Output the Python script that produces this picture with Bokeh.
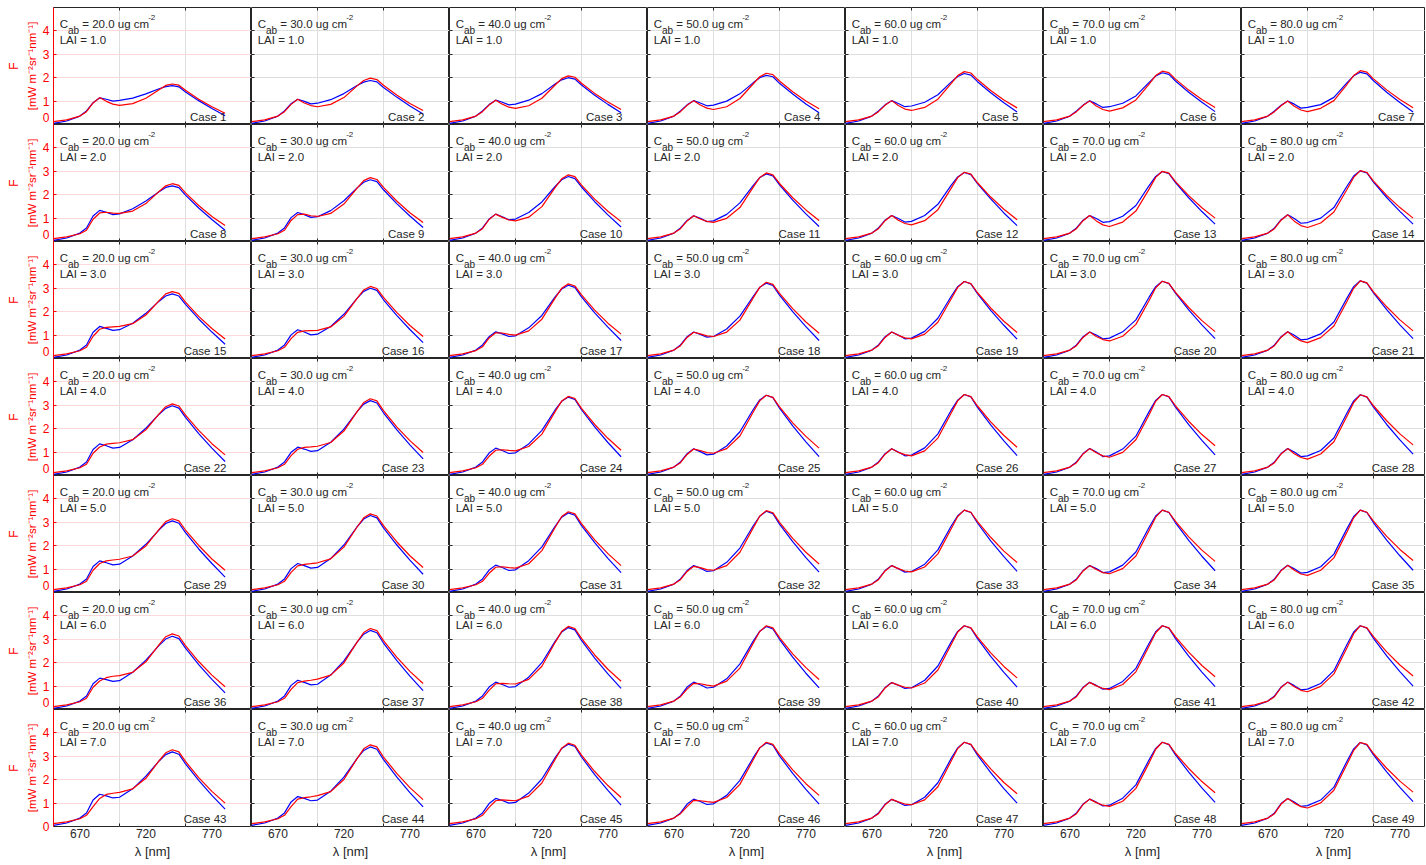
from bokeh.plotting import figure
from bokeh.layouts import gridplot
from bokeh.models import Range1d, FixedTicker, Label, Title, LinearAxis
from bokeh.embed import file_html
from bokeh.resources import INLINE

# ---------------- data ----------------
WL = [650, 660, 670, 675, 680, 685, 690, 695, 700, 710, 720, 730, 735, 740, 745, 750, 760, 770, 780]
CAB = [20.0, 30.0, 40.0, 50.0, 60.0, 70.0, 80.0]
LAI = [1.0, 2.0, 3.0, 4.0, 5.0, 6.0, 7.0]
X_TICK_LABELS = [670, 720, 770]
X_GRID = [700, 750]
Y_TICKS = [0, 1, 2, 3, 4]

BLUE_LAI1 = [
    [.05, .15, .36, .58, .93, 1.14, 1.08, 1.0, 1.03, 1.13, 1.31, 1.53, 1.62, 1.66, 1.61, 1.39, 1.02, .68, .37],
    [.05, .15, .36, .58, .89, 1.08, .99, .88, .91, 1.06, 1.32, 1.67, 1.81, 1.88, 1.82, 1.58, 1.17, .79, .45],
    [.05, .15, .36, .58, .85, 1.04, .95, .84, .87, 1.04, 1.32, 1.73, 1.91, 2.0, 1.94, 1.69, 1.25, .86, .5],
    [.05, .15, .36, .58, .84, 1.02, .92, .8, .83, 1.0, 1.31, 1.78, 2.0, 2.1, 2.04, 1.76, 1.3, .88, .5],
    [.05, .15, .36, .58, .84, 1.02, .9, .76, .79, .95, 1.27, 1.81, 2.05, 2.18, 2.11, 1.83, 1.36, .93, .53],
    [.05, .15, .36, .58, .83, 1.01, .88, .73, .76, .91, 1.22, 1.8, 2.07, 2.21, 2.14, 1.86, 1.38, .95, .55],
    [.05, .15, .36, .58, .82, 1.0, .87, .7, .73, .85, 1.16, 1.79, 2.08, 2.23, 2.16, 1.87, 1.38, .94, .53],
]
RED_LAI1 = [
    [.12, .2, .36, .55, .92, 1.15, .99, .87, .82, .89, 1.12, 1.49, 1.67, 1.73, 1.68, 1.46, 1.08, .76, .48],
    [.12, .2, .36, .55, .86, 1.08, .92, .81, .76, .86, 1.15, 1.65, 1.88, 1.98, 1.92, 1.68, 1.26, .9, .6],
    [.12, .2, .36, .55, .83, 1.04, .87, .74, .69, .8, 1.12, 1.69, 1.96, 2.08, 2.02, 1.76, 1.33, .96, .64],
    [.12, .2, .36, .55, .82, 1.02, .83, .7, .64, .76, 1.11, 1.73, 2.04, 2.19, 2.13, 1.86, 1.4, 1.0, .67],
    [.12, .2, .36, .55, .82, 1.02, .81, .66, .6, .73, 1.08, 1.75, 2.09, 2.26, 2.2, 1.92, 1.45, 1.05, .71],
    [.12, .2, .36, .55, .81, 1.01, .79, .64, .57, .71, 1.05, 1.73, 2.09, 2.28, 2.22, 1.94, 1.47, 1.07, .73],
    [.12, .2, .36, .55, .8, 1.0, .78, .62, .55, .69, 1.02, 1.72, 2.09, 2.3, 2.24, 1.95, 1.48, 1.07, .72],
]
BLUE_LAI2 = [
    [.05, .15, .36, .58, 1.09, 1.33, 1.25, 1.15, 1.18, 1.4, 1.73, 2.13, 2.31, 2.38, 2.3, 1.98, 1.43, .94, .48],
    [.05, .15, .36, .58, 1.02, 1.24, 1.15, 1.03, 1.06, 1.32, 1.74, 2.29, 2.53, 2.64, 2.56, 2.21, 1.62, 1.09, .6],
    [.05, .15, .36, .58, .96, 1.17, 1.06, .93, .96, 1.24, 1.69, 2.35, 2.64, 2.78, 2.69, 2.33, 1.7, 1.14, .62],
    [.05, .15, .36, .58, .9, 1.1, .99, .85, .88, 1.16, 1.65, 2.39, 2.73, 2.89, 2.8, 2.42, 1.77, 1.18, .64],
    [.05, .15, .36, .58, .91, 1.11, .98, .83, .86, 1.11, 1.59, 2.4, 2.76, 2.95, 2.86, 2.47, 1.82, 1.22, .68],
    [.05, .15, .36, .58, .91, 1.11, .98, .82, .85, 1.08, 1.54, 2.39, 2.78, 2.99, 2.9, 2.52, 1.87, 1.28, .74],
    [.05, .15, .36, .58, .93, 1.14, .98, .78, .81, 1.0, 1.45, 2.37, 2.8, 3.02, 2.93, 2.54, 1.88, 1.29, .74],
]
RED_LAI2 = [
    [.12, .2, .33, .48, .95, 1.22, 1.25, 1.21, 1.2, 1.3, 1.62, 2.14, 2.38, 2.47, 2.4, 2.08, 1.54, 1.07, .68],
    [.12, .2, .33, .48, .9, 1.15, 1.17, 1.1, 1.07, 1.2, 1.6, 2.28, 2.6, 2.73, 2.65, 2.31, 1.73, 1.23, .81],
    [.12, .2, .36, .55, .94, 1.17, 1.03, .92, .88, 1.04, 1.49, 2.3, 2.68, 2.85, 2.77, 2.41, 1.81, 1.29, .85],
    [.12, .2, .36, .55, .88, 1.1, .96, .86, .82, .99, 1.45, 2.31, 2.73, 2.93, 2.85, 2.48, 1.87, 1.35, .9],
    [.12, .2, .36, .55, .89, 1.11, .91, .77, .71, .89, 1.36, 2.27, 2.73, 2.96, 2.88, 2.51, 1.9, 1.38, .93],
    [.12, .2, .36, .55, .89, 1.11, .88, .71, .64, .83, 1.3, 2.24, 2.74, 3.0, 2.92, 2.56, 1.96, 1.44, 1.0],
    [.12, .2, .36, .55, .91, 1.14, .87, .68, .6, .79, 1.26, 2.23, 2.74, 3.03, 2.95, 2.58, 1.97, 1.45, 1.0],
]
BLUE_LAI3 = [
    [.05, .15, .36, .58, 1.12, 1.37, 1.29, 1.2, 1.23, 1.51, 1.93, 2.45, 2.67, 2.76, 2.67, 2.31, 1.69, 1.13, .61],
    [.05, .15, .36, .58, 1.01, 1.23, 1.13, 1.01, 1.04, 1.37, 1.89, 2.57, 2.87, 3.0, 2.91, 2.51, 1.84, 1.24, .68],
    [.05, .15, .36, .58, .93, 1.14, 1.05, .94, .97, 1.31, 1.84, 2.63, 2.97, 3.13, 3.04, 2.63, 1.95, 1.34, .77],
    [.05, .15, .36, .58, .93, 1.13, 1.03, .91, .94, 1.26, 1.81, 2.65, 3.04, 3.22, 3.12, 2.71, 2.0, 1.36, .77],
    [.05, .15, .36, .58, .93, 1.13, 1.0, .84, .87, 1.16, 1.72, 2.65, 3.07, 3.29, 3.19, 2.77, 2.06, 1.42, .83],
    [.05, .15, .36, .58, .93, 1.13, 1.0, .84, .87, 1.14, 1.65, 2.62, 3.07, 3.3, 3.2, 2.79, 2.08, 1.44, .85],
    [.05, .15, .36, .58, .93, 1.14, .99, .8, .83, 1.05, 1.56, 2.59, 3.07, 3.32, 3.22, 2.8, 2.09, 1.44, .85],
]
RED_LAI3 = [
    [.12, .2, .33, .48, .95, 1.25, 1.33, 1.35, 1.37, 1.49, 1.86, 2.47, 2.76, 2.86, 2.78, 2.41, 1.8, 1.28, .83],
    [.12, .2, .33, .48, .85, 1.12, 1.18, 1.19, 1.2, 1.35, 1.8, 2.57, 2.93, 3.08, 2.99, 2.61, 1.97, 1.41, .94],
    [.12, .2, .34, .5, .88, 1.1, 1.09, 1.03, 1.0, 1.18, 1.68, 2.58, 3.0, 3.19, 3.1, 2.72, 2.07, 1.51, 1.04],
    [.12, .2, .36, .55, .9, 1.12, 1.05, .97, .94, 1.13, 1.64, 2.58, 3.04, 3.26, 3.17, 2.78, 2.13, 1.56, 1.08],
    [.12, .2, .36, .55, .9, 1.13, .99, .88, .84, 1.04, 1.55, 2.54, 3.04, 3.29, 3.2, 2.81, 2.16, 1.59, 1.11],
    [.12, .2, .36, .55, .9, 1.13, .94, .81, .75, .95, 1.46, 2.48, 3.02, 3.3, 3.21, 2.83, 2.18, 1.62, 1.15],
    [.12, .2, .36, .55, .91, 1.14, .91, .75, .68, .89, 1.39, 2.45, 3.0, 3.32, 3.23, 2.85, 2.21, 1.65, 1.18],
]
BLUE_LAI4 = [
    [.05, .15, .36, .58, 1.11, 1.35, 1.27, 1.17, 1.2, 1.53, 2.02, 2.62, 2.87, 2.98, 2.88, 2.48, 1.79, 1.17, .6],
    [.05, .15, .36, .58, .99, 1.21, 1.13, 1.03, 1.06, 1.42, 1.98, 2.73, 3.05, 3.2, 3.1, 2.68, 1.96, 1.31, .71],
    [.05, .15, .36, .58, .96, 1.17, 1.07, .94, .97, 1.35, 1.93, 2.8, 3.17, 3.35, 3.25, 2.81, 2.08, 1.41, .8],
    [.05, .15, .36, .58, .93, 1.14, 1.02, .88, .91, 1.26, 1.87, 2.81, 3.23, 3.43, 3.33, 2.88, 2.12, 1.44, .81],
    [.05, .15, .36, .58, .93, 1.14, 1.0, .84, .87, 1.18, 1.78, 2.78, 3.22, 3.46, 3.36, 2.91, 2.16, 1.48, .85],
    [.05, .15, .36, .58, .94, 1.15, 1.0, .81, .84, 1.13, 1.68, 2.73, 3.21, 3.46, 3.36, 2.92, 2.17, 1.5, .88],
    [.05, .15, .36, .58, .94, 1.15, 1.0, .81, .84, 1.07, 1.6, 2.68, 3.19, 3.45, 3.35, 2.92, 2.18, 1.52, .91],
]
RED_LAI4 = [
    [.12, .2, .33, .48, .95, 1.22, 1.34, 1.37, 1.4, 1.53, 1.95, 2.63, 2.94, 3.06, 2.97, 2.58, 1.93, 1.36, .88],
    [.12, .2, .33, .48, .85, 1.12, 1.2, 1.22, 1.25, 1.41, 1.9, 2.73, 3.12, 3.28, 3.19, 2.77, 2.08, 1.49, .98],
    [.12, .2, .33, .48, .82, 1.08, 1.1, 1.07, 1.05, 1.24, 1.77, 2.73, 3.18, 3.38, 3.29, 2.87, 2.18, 1.59, 1.08],
    [.12, .2, .36, .55, .9, 1.13, 1.07, .98, .95, 1.15, 1.69, 2.7, 3.19, 3.43, 3.34, 2.93, 2.25, 1.67, 1.17],
    [.12, .2, .36, .55, .91, 1.14, .99, .89, .84, 1.05, 1.6, 2.66, 3.19, 3.46, 3.37, 2.97, 2.29, 1.71, 1.21],
    [.12, .2, .36, .55, .92, 1.15, .97, .84, .78, .99, 1.53, 2.6, 3.17, 3.46, 3.37, 2.98, 2.32, 1.75, 1.27],
    [.12, .2, .36, .55, .92, 1.15, .93, .77, .7, .92, 1.44, 2.54, 3.12, 3.45, 3.36, 2.98, 2.34, 1.78, 1.31],
]
BLUE_LAI5 = [
    [.05, .15, .36, .58, 1.11, 1.35, 1.27, 1.18, 1.21, 1.56, 2.06, 2.68, 2.95, 3.06, 2.96, 2.56, 1.86, 1.24, .66],
    [.05, .15, .36, .58, 1.02, 1.24, 1.15, 1.04, 1.07, 1.45, 2.03, 2.81, 3.14, 3.29, 3.19, 2.76, 2.04, 1.38, .78],
    [.05, .15, .36, .58, .96, 1.17, 1.07, .94, .97, 1.36, 1.95, 2.83, 3.22, 3.4, 3.3, 2.86, 2.13, 1.46, .85],
    [.05, .15, .36, .58, .94, 1.15, 1.04, .9, .93, 1.29, 1.9, 2.84, 3.26, 3.47, 3.37, 2.92, 2.17, 1.49, .87],
    [.05, .15, .36, .58, .94, 1.15, 1.02, .87, .9, 1.21, 1.82, 2.83, 3.28, 3.52, 3.42, 2.97, 2.21, 1.53, .9],
    [.05, .15, .36, .58, .94, 1.15, 1.02, .85, .88, 1.17, 1.73, 2.79, 3.27, 3.52, 3.42, 2.98, 2.23, 1.55, .93],
    [.05, .15, .36, .58, .95, 1.16, 1.01, .83, .86, 1.1, 1.64, 2.74, 3.25, 3.52, 3.42, 2.98, 2.24, 1.57, .95],
]
RED_LAI5 = [
    [.12, .2, .33, .48, .95, 1.24, 1.35, 1.39, 1.42, 1.56, 1.99, 2.7, 3.03, 3.15, 3.06, 2.67, 2.01, 1.43, .95],
    [.12, .2, .33, .48, .86, 1.14, 1.2, 1.23, 1.27, 1.44, 1.94, 2.8, 3.19, 3.36, 3.27, 2.86, 2.17, 1.57, 1.07],
    [.12, .2, .33, .48, .82, 1.08, 1.1, 1.06, 1.04, 1.23, 1.79, 2.78, 3.25, 3.45, 3.36, 2.94, 2.25, 1.66, 1.15],
    [.12, .2, .36, .55, .9, 1.12, 1.06, .98, .95, 1.15, 1.72, 2.75, 3.26, 3.5, 3.41, 3.0, 2.31, 1.72, 1.22],
    [.12, .2, .36, .55, .92, 1.15, 1.02, .92, .88, 1.09, 1.65, 2.71, 3.25, 3.52, 3.43, 3.03, 2.36, 1.77, 1.28],
    [.12, .2, .36, .55, .92, 1.15, .98, .85, .8, 1.02, 1.56, 2.65, 3.22, 3.52, 3.43, 3.04, 2.38, 1.81, 1.33],
    [.12, .2, .36, .55, .93, 1.16, .95, .79, .73, .95, 1.48, 2.6, 3.19, 3.52, 3.43, 3.05, 2.4, 1.84, 1.37],
]
BLUE_LAI6 = [
    [.05, .15, .36, .58, 1.1, 1.34, 1.28, 1.2, 1.23, 1.59, 2.11, 2.74, 3.01, 3.13, 3.03, 2.62, 1.92, 1.29, .71],
    [.05, .15, .36, .58, 1.03, 1.25, 1.16, 1.05, 1.08, 1.47, 2.08, 2.88, 3.22, 3.38, 3.28, 2.84, 2.1, 1.43, .81],
    [.05, .15, .36, .58, .96, 1.17, 1.07, .95, .98, 1.38, 2.0, 2.91, 3.31, 3.5, 3.4, 2.95, 2.2, 1.52, .9],
    [.05, .15, .36, .58, .96, 1.17, 1.06, .92, .95, 1.31, 1.95, 2.91, 3.34, 3.55, 3.44, 3.0, 2.24, 1.55, .92],
    [.05, .15, .36, .58, .94, 1.15, 1.04, .9, .93, 1.25, 1.86, 2.88, 3.34, 3.58, 3.48, 3.03, 2.27, 1.59, .96],
    [.05, .15, .36, .58, .95, 1.16, 1.03, .87, .9, 1.2, 1.76, 2.83, 3.32, 3.58, 3.48, 3.03, 2.28, 1.6, .98],
    [.05, .15, .36, .58, .96, 1.17, 1.02, .84, .87, 1.11, 1.66, 2.79, 3.31, 3.58, 3.48, 3.04, 2.29, 1.62, 1.0],
]
RED_LAI6 = [
    [.12, .2, .33, .48, .95, 1.22, 1.36, 1.42, 1.45, 1.59, 2.04, 2.77, 3.11, 3.23, 3.14, 2.73, 2.05, 1.47, .97],
    [.12, .2, .33, .48, .86, 1.15, 1.21, 1.25, 1.3, 1.47, 1.99, 2.88, 3.29, 3.46, 3.37, 2.94, 2.24, 1.63, 1.11],
    [.12, .2, .33, .48, .82, 1.1, 1.12, 1.1, 1.09, 1.29, 1.85, 2.86, 3.34, 3.55, 3.46, 3.04, 2.33, 1.72, 1.21],
    [.12, .2, .36, .55, .87, 1.12, 1.1, 1.04, 1.0, 1.21, 1.77, 2.82, 3.33, 3.58, 3.49, 3.07, 2.38, 1.79, 1.28],
    [.12, .2, .36, .55, .92, 1.15, 1.04, .95, .92, 1.13, 1.69, 2.77, 3.31, 3.58, 3.49, 3.09, 2.42, 1.84, 1.35],
    [.12, .2, .36, .55, .93, 1.16, 1.01, .9, .85, 1.07, 1.61, 2.71, 3.28, 3.58, 3.49, 3.1, 2.45, 1.88, 1.4],
    [.12, .2, .36, .55, .94, 1.17, .97, .82, .76, .99, 1.52, 2.65, 3.24, 3.58, 3.49, 3.11, 2.46, 1.9, 1.43],
]
BLUE_LAI7 = [
    [.05, .15, .36, .58, 1.13, 1.38, 1.31, 1.22, 1.25, 1.61, 2.15, 2.8, 3.07, 3.19, 3.09, 2.68, 1.97, 1.33, .74],
    [.05, .15, .36, .58, 1.05, 1.28, 1.2, 1.1, 1.13, 1.51, 2.11, 2.91, 3.25, 3.4, 3.3, 2.86, 2.12, 1.45, .84],
    [.05, .15, .36, .58, .98, 1.2, 1.11, 1.0, 1.03, 1.43, 2.03, 2.94, 3.33, 3.52, 3.42, 2.97, 2.22, 1.54, .91],
    [.05, .15, .36, .58, .96, 1.17, 1.07, .94, .97, 1.33, 1.97, 2.93, 3.36, 3.57, 3.47, 3.02, 2.27, 1.59, .96],
    [.05, .15, .36, .58, .95, 1.16, 1.04, .9, .93, 1.25, 1.87, 2.9, 3.36, 3.6, 3.5, 3.05, 2.3, 1.62, 1.0],
    [.05, .15, .36, .58, .96, 1.17, 1.04, .88, .91, 1.21, 1.78, 2.85, 3.34, 3.6, 3.5, 3.06, 2.32, 1.65, 1.03],
    [.05, .15, .36, .58, .98, 1.2, 1.05, .86, .89, 1.13, 1.68, 2.8, 3.32, 3.59, 3.49, 3.06, 2.33, 1.67, 1.06],
]
RED_LAI7 = [
    [.12, .2, .33, .48, .85, 1.2, 1.37, 1.42, 1.46, 1.61, 2.06, 2.81, 3.15, 3.28, 3.19, 2.78, 2.09, 1.5, 1.0],
    [.12, .2, .33, .48, .85, 1.17, 1.23, 1.27, 1.32, 1.49, 2.01, 2.9, 3.32, 3.49, 3.4, 2.97, 2.27, 1.66, 1.15],
    [.12, .2, .33, .48, .82, 1.1, 1.14, 1.12, 1.1, 1.3, 1.86, 2.87, 3.35, 3.56, 3.47, 3.05, 2.35, 1.75, 1.24],
    [.12, .2, .36, .55, .85, 1.12, 1.1, 1.06, 1.03, 1.24, 1.8, 2.84, 3.36, 3.6, 3.51, 3.1, 2.42, 1.83, 1.33],
    [.12, .2, .36, .55, .93, 1.16, 1.05, .96, .93, 1.14, 1.7, 2.79, 3.33, 3.6, 3.51, 3.12, 2.46, 1.88, 1.4],
    [.12, .2, .36, .55, .94, 1.17, 1.02, .91, .86, 1.08, 1.63, 2.72, 3.3, 3.6, 3.51, 3.12, 2.48, 1.92, 1.44],
    [.12, .2, .36, .55, .96, 1.2, 1.0, .85, .79, 1.01, 1.55, 2.67, 3.25, 3.59, 3.51, 3.12, 2.49, 1.94, 1.47],
]

BLUE = [BLUE_LAI1, BLUE_LAI2, BLUE_LAI3, BLUE_LAI4, BLUE_LAI5, BLUE_LAI6, BLUE_LAI7]
RED = [RED_LAI1, RED_LAI2, RED_LAI3, RED_LAI4, RED_LAI5, RED_LAI6, RED_LAI7]

# ---------------- style ----------------
FONT = "Liberation Sans"
DARK = "#262626"
RED_C = "#ff0000"
BLUE_C = "#0000ff"
GRID_GRAY = "#dedede"
GRID_PINK = "#ffd9d9"
PX_PER_NM = 1.32
FW = 198
FW_LAST = 184
FH = 117
LEFT = 53
TOP = 7
TXT = "11.5px"
ZERO_LIFT = 0.3   # the zero label is lifted so that it stays inside its panel


def tick_axis(ticks, loc, color=DARK, dim="x"):
    return LinearAxis(fixed_location=loc, ticker=FixedTicker(ticks=ticks),
                      axis_line_color=None, major_tick_in=3, major_tick_out=0,
                      major_tick_line_color=color, minor_tick_line_color=None,
                      major_label_text_color=None)


def make_panel(r, c):
    first = c == 0
    last = r == 6
    fw = FW if c < 6 else FW_LAST
    x_end = 650 + fw / PX_PER_NM
    p = figure(frame_width=fw, frame_height=FH,
               x_range=Range1d(650, x_end), y_range=Range1d(0, 5),
               output_backend="svg", toolbar_location=None,
               min_border_left=LEFT if first else 0,
               min_border_right=0, min_border_top=TOP if r == 0 else 0,
               min_border_bottom=0,
               background_fill_color="white", border_fill_color="white")
    p.outline_line_color = DARK
    p.outline_line_width = 1

    p.xgrid.ticker = FixedTicker(ticks=X_GRID)
    p.xgrid.grid_line_color = GRID_GRAY
    p.ygrid.ticker = FixedTicker(ticks=[1, 2, 3, 4])
    p.ygrid.grid_line_color = GRID_PINK if first else GRID_GRAY

    ya = p.yaxis[0]
    ya.minor_tick_line_color = None
    ya.major_tick_in = 0
    ya.major_tick_out = 0
    if first:
        if last:
            label_ticks = list(Y_TICKS)
            ya.ticker = FixedTicker(ticks=label_ticks)
        else:
            label_ticks = [Y_TICKS[0] + ZERO_LIFT] + list(Y_TICKS[1:])
            ya.ticker = FixedTicker(ticks=label_ticks)
            ya.major_label_overrides = {Y_TICKS[0] + ZERO_LIFT: str(Y_TICKS[0])}
        ya.axis_line_color = RED_C
        ya.major_tick_line_color = None
        ya.major_label_text_color = RED_C
        ya.major_label_text_font = FONT
        ya.major_label_text_font_size = "12px"
        ya.major_label_standoff = 4
        ya.axis_label = "[mW m\u207b\u00b2sr\u207b\u00b9nm\u207b\u00b9]"
        ya.axis_label_text_color = RED_C
        ya.axis_label_text_font = FONT
        ya.axis_label_text_font_size = TXT
        ya.axis_label_text_font_style = "normal"
        ya.axis_label_standoff = 2
        p.add_layout(Title(text="F", text_color=RED_C, text_font=FONT,
                           text_font_size="12px", text_font_style="normal",
                           align="center", standoff=3), "left")
        # inward tick marks at the real tick values
        p.add_layout(tick_axis(Y_TICKS[1:], 650, RED_C), "left")
    else:
        ya.fixed_location = 650
        ya.ticker = FixedTicker(ticks=Y_TICKS[1:])
        ya.axis_line_color = None
        ya.major_tick_in = 3
        ya.major_tick_line_color = DARK
        ya.major_label_text_color = None

    xa = p.xaxis[0]
    xa.minor_tick_line_color = None
    xa.axis_line_color = None
    if last:
        xa.ticker = FixedTicker(ticks=X_TICK_LABELS)
        xa.major_tick_line_color = None
        xa.major_tick_in = 0
        xa.major_tick_out = 0
        xa.major_label_text_color = DARK
        xa.major_label_text_font = FONT
        xa.major_label_text_font_size = "12px"
        xa.major_label_standoff = 2
        xa.axis_label = "\u03bb [nm]"
        xa.axis_label_text_color = DARK
        xa.axis_label_text_font = FONT
        xa.axis_label_text_font_size = "13px"
        xa.axis_label_text_font_style = "normal"
        xa.axis_label_standoff = 3
        p.add_layout(tick_axis(X_GRID, 0), "below")
    else:
        xa.fixed_location = 0
        xa.ticker = FixedTicker(ticks=X_GRID)
        xa.major_tick_in = 3
        xa.major_tick_out = 0
        xa.major_tick_line_color = DARK
        xa.major_label_text_color = None
    p.add_layout(tick_axis(X_GRID, 5), "above")

    p.line(WL, BLUE[r][c], line_color=BLUE_C, line_width=1.2)
    p.line(WL, RED[r][c], line_color=RED_C, line_width=1.2)

    # annotations
    x0 = 654.7
    common = dict(text_font=FONT, text_color=DARK, text_baseline="middle")
    p.add_layout(Label(x=x0, y=4.29, text="C", text_font_size=TXT, **common))
    p.add_layout(Label(x=x0 + 8.3 / PX_PER_NM, y=4.03, text="ab", text_font_size="10px", **common))
    p.add_layout(Label(x=x0 + 22.6 / PX_PER_NM, y=4.29, text="= %.1f ug cm" % CAB[c],
                       text_font_size=TXT, **common))
    p.add_layout(Label(x=x0 + 88.5 / PX_PER_NM, y=4.57, text="-2", text_font_size="8px", **common))
    p.add_layout(Label(x=x0, y=3.6, text="LAI = %.1f" % LAI[r], text_font_size=TXT, **common))
    p.add_layout(Label(x=650 + 173 / PX_PER_NM, y=0.33, text="Case %d" % (r * 7 + c + 1),
                       text_align="right", text_font_size=TXT, **common))
    return p


rows = [[make_panel(r, c) for c in range(7)] for r in range(7)]
grid = gridplot(rows, toolbar_location=None)

html = file_html(grid, INLINE, title="Fluorescence spectra")
open("out.html", "w").write(html)
